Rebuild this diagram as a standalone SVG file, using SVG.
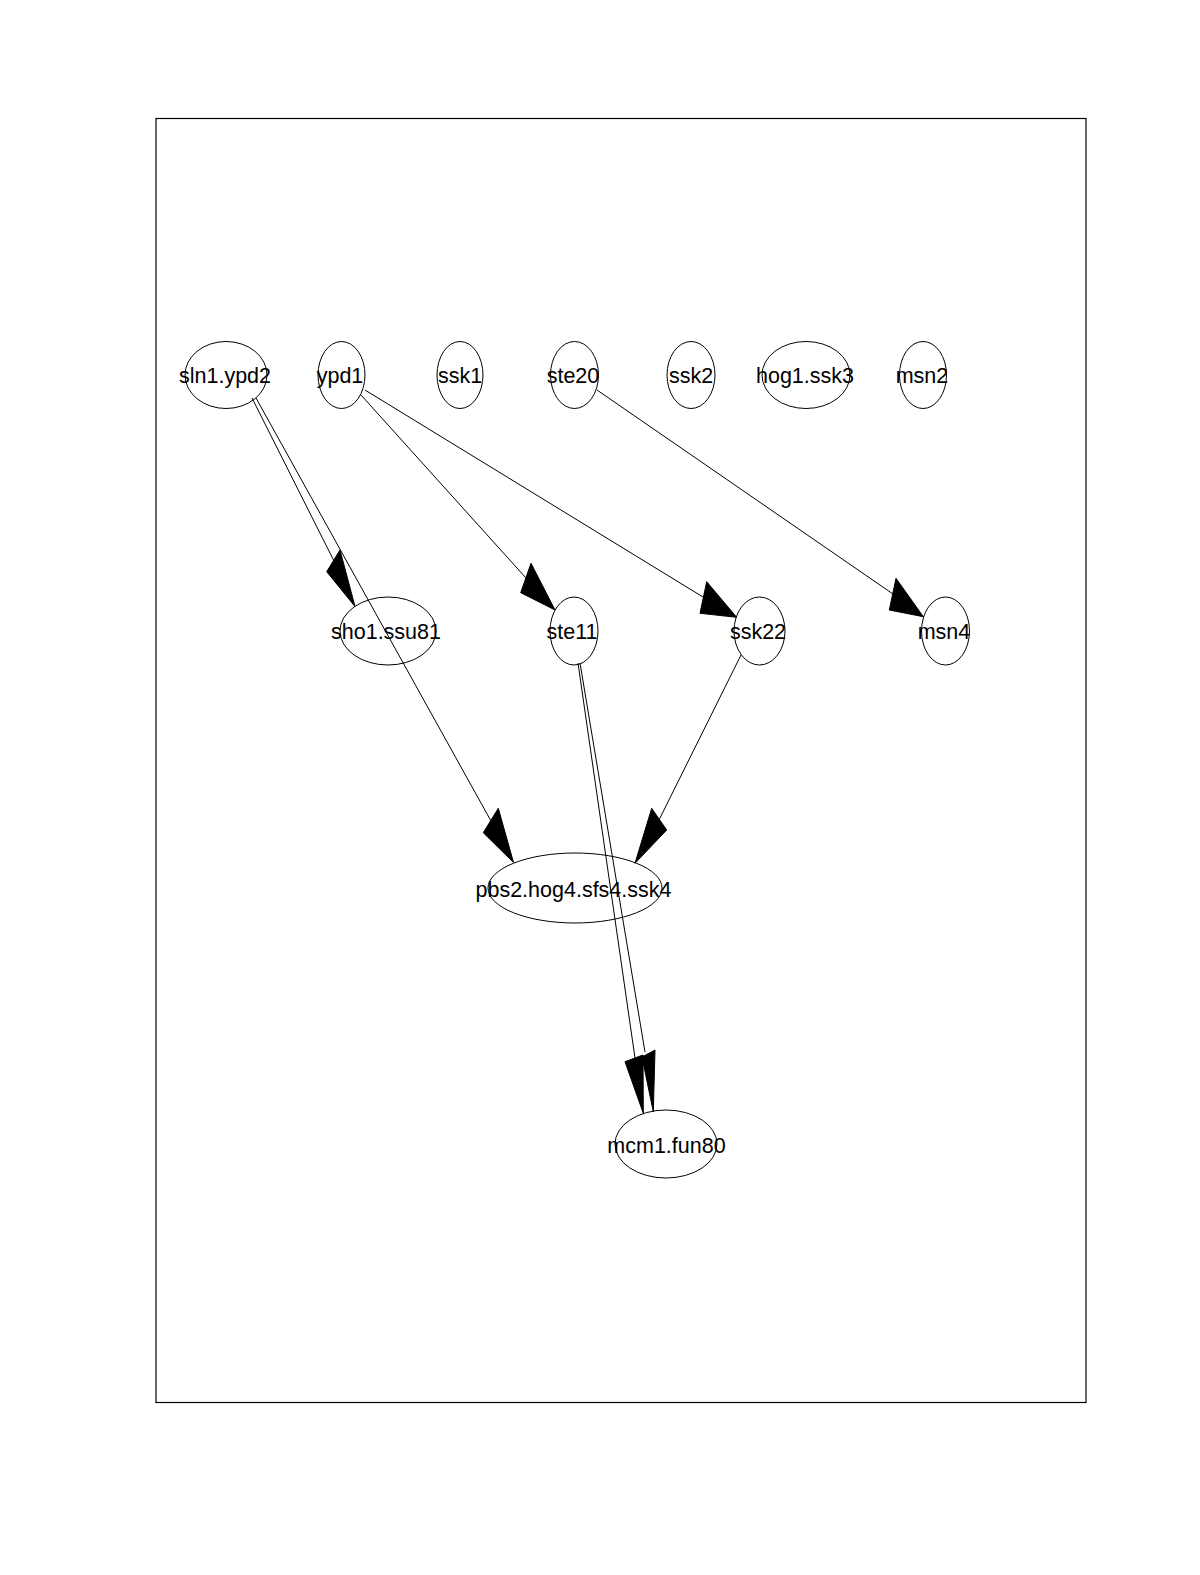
<svg xmlns="http://www.w3.org/2000/svg" width="1200" height="1575" viewBox="0 0 1200 1575">
<style>
.n{fill:none;stroke:#000;stroke-width:1}
.t{font-family:"Liberation Sans",Arial,sans-serif;font-size:21.5px;fill:#000;text-anchor:middle}
.e{stroke:#000;stroke-width:1;fill:none}
.a{fill:#000;stroke:#000;stroke-width:1}
</style>
<rect x="0" y="0" width="1200" height="1575" fill="#fff"/>
<rect x="156" y="118.5" width="930" height="1284" fill="none" stroke="#000" stroke-width="1.2"/>
<g id="edges">
<line class="e" x1="252" y1="398" x2="334" y2="561"/>
<polygon class="a" points="355,606.5 326.7,571.7 340,550"/>
<line class="e" x1="256" y1="398" x2="491" y2="821"/>
<polygon class="a" points="513.5,862.5 483.3,832.7 498.3,808.3"/>
<line class="e" x1="361" y1="395" x2="526" y2="578"/>
<polygon class="a" points="555,610 520.7,592.7 531,563.3"/>
<line class="e" x1="365" y1="390" x2="703" y2="597"/>
<polygon class="a" points="736.7,617.3 700,613.3 706.7,581.7"/>
<line class="e" x1="597" y1="390" x2="893" y2="594"/>
<polygon class="a" points="923.3,616.7 889.3,610 896,578.3"/>
<line class="e" x1="741" y1="655" x2="659" y2="820"/>
<polygon class="a" points="635,863.3 651.7,808.3 666.7,830"/>
<line class="e" x1="578" y1="663" x2="635" y2="1058"/>
<polygon class="a" points="643.3,1113.3 625,1061.7 643,1055"/>
<line class="e" x1="580" y1="663" x2="645" y2="1052"/>
<polygon class="a" points="653.3,1111.7 642,1057 655,1050"/>
</g>
<g id="sln1.ypd2"><ellipse class="n" cx="226" cy="375" rx="41" ry="33.5"/><text class="t" x="225" y="383">sln1.ypd2</text></g>
<g id="ypd1"><ellipse class="n" cx="341.5" cy="375" rx="23.5" ry="33.5"/><text class="t" x="340" y="383">ypd1</text></g>
<g id="ssk1"><ellipse class="n" cx="460" cy="375" rx="23" ry="33.5"/><text class="t" x="460" y="383">ssk1</text></g>
<g id="ste20"><ellipse class="n" cx="574.5" cy="375" rx="24" ry="33.5"/><text class="t" x="573" y="383">ste20</text></g>
<g id="ssk2"><ellipse class="n" cx="691" cy="375" rx="24" ry="33.5"/><text class="t" x="691" y="383">ssk2</text></g>
<g id="hog1.ssk3"><ellipse class="n" cx="806" cy="375" rx="44" ry="33.5"/><text class="t" x="805" y="383">hog1.ssk3</text></g>
<g id="msn2"><ellipse class="n" cx="923" cy="375" rx="23.5" ry="33.5"/><text class="t" x="922" y="383">msn2</text></g>
<g id="sho1.ssu81"><ellipse class="n" cx="388" cy="631" rx="48" ry="34"/><text class="t" x="386" y="639">sho1.ssu81</text></g>
<g id="ste11"><ellipse class="n" cx="574" cy="631" rx="24" ry="34"/><text class="t" x="572" y="639">ste11</text></g>
<g id="ssk22"><ellipse class="n" cx="759.5" cy="631" rx="25.5" ry="34"/><text class="t" x="758" y="639">ssk22</text></g>
<g id="msn4"><ellipse class="n" cx="945.5" cy="631" rx="24" ry="34"/><text class="t" x="944" y="639">msn4</text></g>
<g id="pbs2.hog4.sfs4.ssk4"><ellipse class="n" cx="575" cy="888" rx="87" ry="35"/><text class="t" x="573.5" y="896.5">pbs2.hog4.sfs4.ssk4</text></g>
<g id="mcm1.fun80"><ellipse class="n" cx="666" cy="1144" rx="51" ry="34"/><text class="t" x="666.5" y="1152.5">mcm1.fun80</text></g>
</svg>
